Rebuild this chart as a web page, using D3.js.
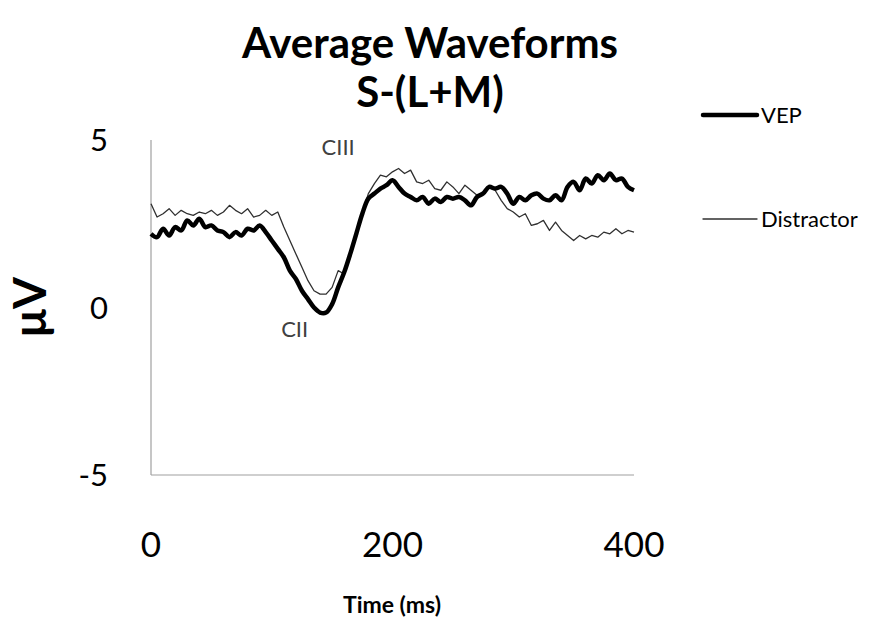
<!DOCTYPE html>
<html>
<head>
<meta charset="utf-8">
<script src="https://cdn.jsdelivr.net/npm/d3@7"></script>
<style>
  html, body { margin: 0; padding: 0; background: #fff; }
  svg text { font-family: Lato, "Open Sans", sans-serif; }
</style>
</head>
<body>
<svg id="chart" width="871" height="623"></svg>
<script>
// ---- data ----
const timeMs = d3.range(0, 401, 5); // sample times, ms
const vepValues = [
  2.2, 2.1, 2.35, 2.15, 2.4, 2.3, 2.6, 2.45, 2.65, 2.4,
  2.45, 2.3, 2.25, 2.1, 2.25, 2.15, 2.35, 2.3, 2.45, 2.25,
  2.0, 1.75, 1.5, 1.1, 0.85, 0.5, 0.25, 0.0, -0.15, -0.15,
  0.1, 0.6, 1.05, 1.6, 2.2, 2.8, 3.25, 3.4, 3.55, 3.65,
  3.8, 3.6, 3.4, 3.3, 3.2, 3.3, 3.1, 3.25, 3.15, 3.3,
  3.25, 3.3, 3.2, 3.05, 3.3, 3.4, 3.6, 3.55, 3.6, 3.4,
  3.1, 3.3, 3.2, 3.35, 3.4, 3.25, 3.2, 3.35, 3.2, 3.6,
  3.75, 3.5, 3.85, 3.7, 3.95, 3.8, 4.0, 3.8, 3.85, 3.6,
  3.5
];
const distractorValues = [
  3.1, 2.7, 2.8, 2.95, 2.75, 2.9, 2.8, 2.75, 2.85, 2.8,
  2.9, 2.75, 2.85, 3.05, 2.9, 2.8, 2.95, 2.7, 2.75, 2.9,
  2.75, 2.85, 2.4, 2.0, 1.6, 1.2, 0.8, 0.5, 0.4, 0.4,
  0.6, 1.1, 1.0, 1.5, 2.2, 2.85, 3.4, 3.7, 3.95, 3.9,
  4.05, 4.15, 4.0, 4.1, 3.75, 3.7, 3.8, 3.55, 3.5, 3.75,
  3.6, 3.4, 3.65, 3.5, 3.35, 3.4, 3.6, 3.5, 3.2, 2.95,
  2.85, 2.7, 2.8, 2.45, 2.5, 2.6, 2.3, 2.55, 2.3, 2.15,
  2.0, 2.15, 2.05, 2.15, 2.1, 2.25, 2.2, 2.35, 2.2, 2.3,
  2.25
];
const xTicks = [0, 200, 400];
const yTicks = [-5, 0, 5];
const seriesNames = ["VEP", "Distractor"];
const titleLines = ["Average Waveforms", "S-(L+M)"];
const annotations = [
  { label: "CIII", t: 155, v: 4.55 },
  { label: "CII", t: 119, v: -0.88 }
];

// ---- layout ----
const svg = d3.select("#chart");
const plot = { left: 151, right: 634, top: 140, bottom: 475 };

const x = d3.scaleLinear().domain([0, 400]).range([plot.left, plot.right]);
const y = d3.scaleLinear().domain([-5, 5]).range([plot.bottom, plot.top]);

// title
svg.selectAll("text.title").data(titleLines).join("text")
  .attr("class", "title")
  .attr("x", 430)
  .attr("y", (d, i) => 58 + i * 49)
  .attr("text-anchor", "middle")
  .attr("font-weight", "bold")
  .attr("font-size", 42)
  .attr("fill", "#000")
  .text(d => d);

// axes lines
svg.append("line")
  .attr("x1", plot.left).attr("x2", plot.left)
  .attr("y1", plot.top).attr("y2", plot.bottom)
  .attr("stroke", "#a0a0a0").attr("stroke-width", 1.2);
svg.append("line")
  .attr("x1", plot.left).attr("x2", plot.right)
  .attr("y1", plot.bottom).attr("y2", plot.bottom)
  .attr("stroke", "#a0a0a0").attr("stroke-width", 1.2);

// y tick labels
svg.selectAll("text.ytick").data(yTicks).join("text")
  .attr("class", "ytick")
  .attr("x", 108)
  .attr("y", d => y(d))
  .attr("dy", "0.36em")
  .attr("text-anchor", "end")
  .attr("font-size", 31)
  .attr("fill", "#000")
  .text(d => d);

// x tick labels
svg.selectAll("text.xtick").data(xTicks).join("text")
  .attr("class", "xtick")
  .attr("x", d => x(d))
  .attr("y", 557)
  .attr("text-anchor", "middle")
  .attr("font-size", 35)
  .attr("fill", "#000")
  .text(d => d);

// axis titles
svg.append("text")
  .attr("x", 392).attr("y", 613)
  .attr("text-anchor", "middle")
  .attr("font-weight", "bold")
  .attr("font-size", 23)
  .attr("fill", "#000")
  .text("Time (ms)");
svg.append("text")
  .attr("transform", "translate(46,307) rotate(-90)")
  .attr("text-anchor", "middle")
  .attr("font-weight", "bold")
  .attr("font-size", 46)
  .attr("fill", "#000")
  .text("μV");

// lines
const line = d3.line()
  .x((d, i) => x(timeMs[i]))
  .y(d => y(d));

svg.append("path")
  .datum(distractorValues)
  .attr("d", line.curve(d3.curveLinear))
  .attr("fill", "none")
  .attr("stroke", "#303030")
  .attr("stroke-width", 1.3)
  .attr("stroke-linejoin", "round");

svg.append("path")
  .datum(vepValues)
  .attr("d", line.curve(d3.curveCatmullRom.alpha(0.5)))
  .attr("fill", "none")
  .attr("stroke", "#000")
  .attr("stroke-width", 4.5)
  .attr("stroke-linejoin", "round");

// annotations
svg.selectAll("text.anno").data(annotations).join("text")
  .attr("class", "anno")
  .attr("x", d => x(d.t))
  .attr("y", d => y(d.v))
  .attr("text-anchor", "middle")
  .attr("font-size", 22)
  .attr("fill", "#404040")
  .text(d => d.label);

// legend
const legend = [
  { name: seriesNames[0], y: 115, w: 4.5, c: "#000" },
  { name: seriesNames[1], y: 219, w: 1.3, c: "#303030" }
];
const lg = svg.selectAll("g.legend").data(legend).join("g").attr("class", "legend");
lg.append("line")
  .attr("x1", 703).attr("x2", 757)
  .attr("y1", d => d.y).attr("y2", d => d.y)
  .attr("stroke", d => d.c)
  .attr("stroke-width", d => d.w)
  .attr("stroke-linecap", "round");
lg.append("text")
  .attr("x", 761)
  .attr("y", d => d.y)
  .attr("dy", "0.36em")
  .attr("font-size", 22)
  .attr("fill", "#000")
  .text(d => d.name);
</script>
</body>
</html>
